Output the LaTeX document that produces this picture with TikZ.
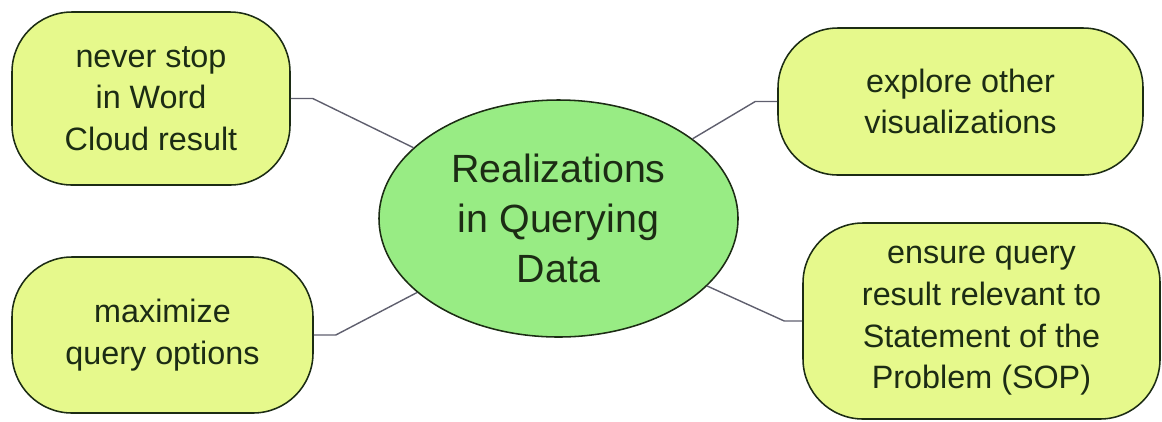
\documentclass[tikz,border=0pt]{standalone}
\usepackage{fontspec}
\setmainfont{Liberation Sans}
\usepackage{tikz}
\usetikzlibrary{shapes.geometric}
\definecolor{jaune}{RGB}{230,249,140}
\definecolor{vert}{RGB}{152,236,132}
\definecolor{encre}{RGB}{28,44,20}
\definecolor{trait}{RGB}{95,95,110}
\tikzstyle{idea} = [rectangle, draw=encre, line width=1.1pt, fill=jaune, rounded corners=1.5cm, text=encre, align=center, font=\fontsize{23}{29.6}\selectfont]
\tikzstyle{topic} = [ellipse, draw=encre, line width=1.1pt, fill=vert, inner sep=0pt, text=encre, align=center, font=\fontsize{28}{35.6}\selectfont]
\tikzstyle{link} = [draw=trait, line width=1pt]

\begin{document}
\begin{tikzpicture}

        \useasboundingbox (0,0) rectangle (29.05,-10.525);

        \node (C) [topic, minimum width=8.975cm, minimum height=5.925cm] at (13.9625,-5.4625) {Realizations\\ in Querying\\ Data};

        \node (I1) [idea, minimum width=6.95cm, minimum height=4.325cm] at (3.775,-2.4625) {never stop\\ in Word\\ Cloud result};
        \node (I2) [idea, minimum width=9.125cm, minimum height=3.675cm] at (24.0125,-2.5375) {explore other\\ visualizations};
        \node (I3) [idea, minimum width=7.525cm, minimum height=3.9cm] at (4.0625,-8.375) {maximize\\ query options};
        \node (I4) [idea, minimum width=8.925cm, minimum height=4.9cm] at (24.5375,-8.025) {ensure query\\ result relevant to\\ Statement of the\\ Problem (SOP)};

        \draw [link] (I1.east) -- ++(0.55,0) -- (C);
        \draw [link] (I2.west) -- ++(-0.55,0) -- (C);
        \draw [link] (I3.east) -- ++(0.55,0) -- (C);
        \draw [link] (I4.west) -- ++(-0.45,0) -- (C);

    \end{tikzpicture}
\end{document}
